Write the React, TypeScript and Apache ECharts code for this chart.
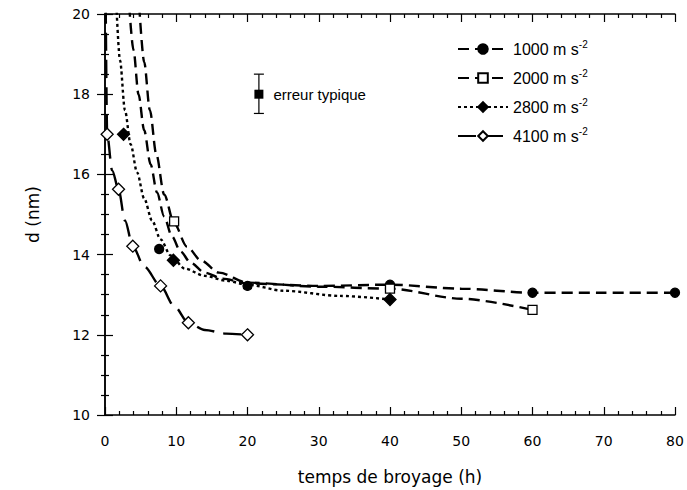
import React, { useEffect, useRef } from 'react';
import * as echarts from 'echarts';

// Measured points (markers)
const pts1000 = [[7.6, 14.14], [20, 13.22], [40, 13.25], [60, 13.05], [80, 13.05]];
const pts2000 = [[9.7, 14.83], [40, 13.15], [60, 12.62]];
const pts2800 = [[2.6, 17.0], [9.6, 13.86], [40, 12.88]];
const pts4100 = [[0.3, 17.0], [1.9, 15.63], [3.9, 14.21], [7.8, 13.22], [11.7, 12.3], [20, 12.0]];

// Fitted curves
const curve1000 = [[3.4, 20.2], [4.0, 19.1], [4.7, 18.0], [5.5, 17.1], [6.4, 16.25], [7.3, 15.55], [8.3, 14.95], [9.4, 14.45], [10.6, 14.08], [12, 13.8], [14, 13.55], [16.5, 13.4], [20, 13.28], [30, 13.22], [40, 13.25], [50, 13.15], [60, 13.05], [70, 13.05], [80, 13.05]];
const curve2000 = [[4.8, 20.2], [5.5, 18.8], [6.3, 17.6], [7.2, 16.5], [8.3, 15.5], [9.7, 14.78], [11.5, 14.2], [13.5, 13.85], [16, 13.55], [20, 13.3], [30, 13.2], [40, 13.15], [50, 12.9], [60, 12.62]];
const curve2800 = [[1.6, 20.2], [2.1, 18.85], [2.8, 17.6], [3.6, 16.75], [4.5, 16.05], [5.5, 15.4], [6.6, 14.85], [7.8, 14.38], [9.2, 13.98], [11.2, 13.65], [14, 13.47], [17, 13.35], [20, 13.25], [25, 13.1], [33, 12.97], [40, 12.88]];
const curve4100 = [[0.1, 20.2], [0.3, 17.0], [1.0, 16.1], [1.9, 15.63], [2.8, 14.85], [3.9, 14.21], [5.5, 13.7], [7.8, 13.22], [9.7, 12.72], [11.7, 12.3], [14, 12.12], [17, 12.03], [20, 12.0]];

// Typical error annotation
const errPoint = [21.6, 18.0];
const errRange = [17.52, 18.5];
const errLabel = 'erreur typique';

const legendNames = ['1000 m s-2', '2000 m s-2', '2800 m s-2', '4100 m s-2'];

const FONT = 'Liberation Sans, Arial, sans-serif';
const WIDE = 'DejaVu Sans, sans-serif';
const INK = '#000';

export default function App() {
  const ref = useRef<HTMLDivElement>(null);
  useEffect(() => {
    if (!ref.current) return;
    const chart = echarts.init(ref.current, null, { renderer: 'svg' });

    const defs = [
      { name: legendNames[0], curve: curve1000, pts: pts1000, dash: [11, 6], symbol: 'circle', size: 9, fill: INK },
      { name: legendNames[1], curve: curve2000, pts: pts2000, dash: [11, 6], symbol: 'rect', size: 9, fill: '#fff' },
      { name: legendNames[2], curve: curve2800, pts: pts2800, dash: [3, 3], symbol: 'diamond', size: 12, fill: INK },
      { name: legendNames[3], curve: curve4100, pts: pts4100, dash: [18, 9], symbol: 'diamond', size: 12, fill: '#fff' },
    ];

    const series: any[] = [];
    defs.forEach((d) => {
      series.push({
        type: 'line',
        name: d.name,
        data: d.curve,
        smooth: 0.3,
        smoothMonotone: 'x',
        showSymbol: false,
        symbol: d.symbol,
        symbolSize: d.size,
        itemStyle: { color: d.fill, borderColor: INK, borderWidth: 1.3 },
        lineStyle: { color: INK, width: 2.4, type: d.dash },
        z: 2,
        silent: true,
      });
    });
    defs.forEach((d) => {
      series.push({
        type: 'scatter',
        name: d.name,
        data: d.pts,
        symbol: d.symbol,
        symbolSize: d.size,
        itemStyle: { color: d.fill, borderColor: INK, borderWidth: 1.3, opacity: 1 },
        z: 5,
      });
    });
    series.push({
      type: 'custom',
      data: [[errPoint[0], errRange[0], errRange[1]]],
      renderItem: (params: any, api: any) => {
        const lo = api.coord([api.value(0), api.value(1)]);
        const hi = api.coord([api.value(0), api.value(2)]);
        const w = 5;
        const st = { stroke: INK, lineWidth: 1.2 };
        return {
          type: 'group',
          children: [
            { type: 'line', shape: { x1: lo[0], y1: lo[1], x2: hi[0], y2: hi[1] }, style: st },
            { type: 'line', shape: { x1: lo[0] - w, y1: lo[1], x2: lo[0] + w, y2: lo[1] }, style: st },
            { type: 'line', shape: { x1: hi[0] - w, y1: hi[1], x2: hi[0] + w, y2: hi[1] }, style: st },
          ],
        };
      },
      z: 4,
    });
    series.push({
      type: 'scatter',
      data: [errPoint],
      symbol: 'rect',
      symbolSize: 9,
      itemStyle: { color: INK, opacity: 1 },
      label: {
        show: true,
        position: 'right',
        distance: 10,
        formatter: errLabel,
        color: INK,
        fontFamily: FONT,
        fontSize: 15,
      },
      z: 6,
    });

    const axisLine = { show: true, lineStyle: { color: INK, width: 1.5 } };
    const axisTick = { show: true, inside: true, length: 8, lineStyle: { color: INK, width: 1.2 } };
    const minor = { show: true, length: 4, lineStyle: { color: INK, width: 1.2 } };
    const tickLabel = { color: INK, fontFamily: WIDE, fontSize: 14 };

    const option: any = {
      animation: false,
      backgroundColor: '#fff',
      grid: { left: 105, right: 12, top: 14, bottom: 75 },
      legend: {
        orient: 'vertical',
        left: 452,
        top: 34,
        itemWidth: 50,
        itemHeight: 12,
        itemGap: 11,
        data: legendNames,
        textStyle: {
          color: INK,
          fontFamily: FONT,
          rich: {
            n: { fontSize: 16, fontFamily: FONT, color: INK, lineHeight: 20 },
            s: { fontSize: 10, fontFamily: FONT, color: INK, verticalAlign: 'top', lineHeight: 20 },
          },
        },
        formatter: (name: string) => {
          const base = name.replace(/-2$/, '');
          return '{n|' + base + '}{s|-2}';
        },
      },
      xAxis: [
        {
          type: 'value',
          min: 0,
          max: 80,
          interval: 10,
          name: 'temps de broyage (h)',
          nameLocation: 'middle',
          nameGap: 53,
          nameTextStyle: { color: INK, fontFamily: WIDE, fontSize: 17 },
          minorTick: { ...minor, splitNumber: 5 },
          axisLabel: { ...tickLabel, margin: 19 },
          axisLine,
          axisTick,
          splitLine: { show: false },
        },
        {
          type: 'value',
          position: 'top',
          min: 0,
          max: 80,
          interval: 10,
          minorTick: { ...minor, splitNumber: 5 },
          axisLabel: { show: false },
          axisLine,
          axisTick,
          splitLine: { show: false },
        },
      ],
      yAxis: [
        {
          type: 'value',
          min: 10,
          max: 20,
          interval: 2,
          name: 'd (nm)',
          nameLocation: 'middle',
          nameGap: 64,
          nameRotate: 90,
          nameTextStyle: { color: INK, fontFamily: WIDE, fontSize: 17 },
          minorTick: { ...minor, splitNumber: 4 },
          axisLabel: { ...tickLabel, margin: 15 },
          axisLine,
          axisTick,
          splitLine: { show: false },
        },
        {
          type: 'value',
          position: 'right',
          min: 10,
          max: 20,
          interval: 2,
          minorTick: { ...minor, splitNumber: 4 },
          axisLabel: { show: false },
          axisLine,
          axisTick,
          splitLine: { show: false },
        },
      ],
      series,
    };
    chart.setOption(option);
    return () => chart.dispose();
  }, []);
  return <div ref={ref} style={{ width: 687, height: 490, position: 'absolute', left: 0, top: 0 }} />;
}
